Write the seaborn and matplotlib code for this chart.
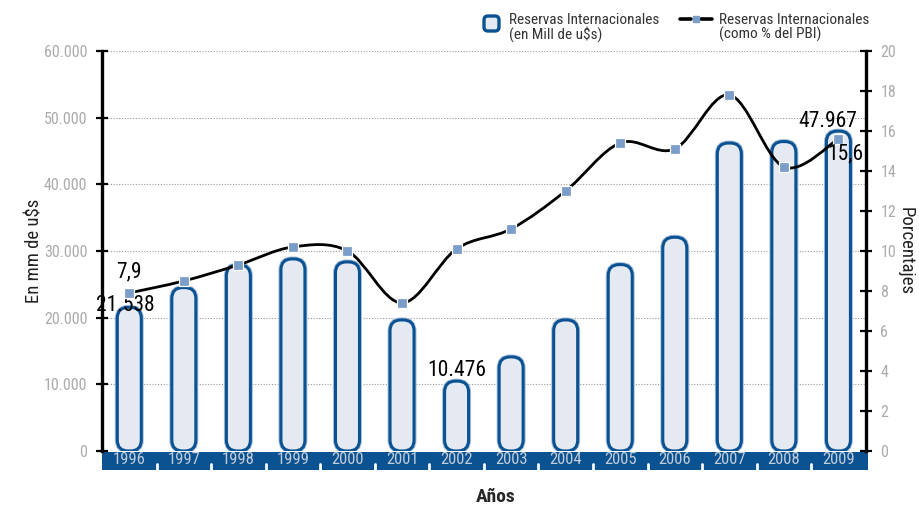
import matplotlib
matplotlib.use("Agg")
import matplotlib.pyplot as plt
import seaborn as sns
import numpy as np
import pandas as pd
from matplotlib import font_manager as fm
from matplotlib.patches import FancyBboxPatch, Rectangle, PathPatch
from matplotlib.path import Path
from matplotlib.lines import Line2D
from matplotlib.ticker import FuncFormatter, MultipleLocator

sns.set_style("white")

# pick a narrow sans if one is around
names = {f.name for f in fm.fontManager.ttflist}
family, stretch = 'Roboto', 'normal'
for pref in ['Liberation Sans Narrow', 'Roboto Condensed', 'Open Sans Condensed',
             'Noto Sans Condensed', 'DejaVu Sans Condensed']:
    if pref in names:
        family = pref
        break
else:
    for f in fm.fontManager.ttflist:
        if 'Sans' in f.name and 'Mono' not in f.name and 'CJK' not in f.name \
                and f.stretch in ('condensed', 'semi-condensed', 'extra-condensed'):
            family, stretch = f.name, f.stretch
            break
plt.rcParams['font.family'] = [family, 'DejaVu Sans']
plt.rcParams['font.stretch'] = stretch

# data
years = ['1996', '1997', '1998', '1999', '2000', '2001', '2002',
         '2003', '2004', '2005', '2006', '2007', '2008', '2009']
reservas = [21538, 24500, 27900, 28800, 28350, 19650, 10476,
            14100, 19650, 27950, 32050, 46180, 46400, 47967]
pct_pbi = [7.9, 8.5, 9.3, 10.2, 10.0, 7.4, 10.1,
           11.1, 13.0, 15.4, 15.1, 17.8, 14.2, 15.6]

dark = '#0a5291'
light = '#e4e9f2'
marker_c = '#7b9dc9'
grey = '#ababab'

df = pd.DataFrame({'anio': years, 'reservas': reservas, 'pct': pct_pbi})

fig = plt.figure(figsize=(9.19, 5.09), dpi=100)
ax = fig.add_axes([0.111, 0.114, 0.831, 0.786])

sns.barplot(data=df, x='anio', y='reservas', color=light, width=0.44,
            saturation=1, ax=ax)
ax.set_xlim(-0.5, 13.5)
ax.set_ylim(0, 60000)

# swap the square bars for rounded ones
aspect = (60000 / 400.) / (14 / 764.)
for p in list(ax.patches):
    x0, y0 = p.get_x(), p.get_y()
    w, h = p.get_width(), p.get_height()
    p.remove()
    for ec, lw, z in [('#a9c0dc', 3.6, 2), (dark, 2.2, 3)]:
        fb = FancyBboxPatch((x0, y0), w, h,
                            boxstyle='round,pad=0,rounding_size=0.2',
                            mutation_aspect=aspect, fc=light, ec=ec, lw=lw, zorder=z)
        ax.add_patch(fb)

# grid and spines
ax.yaxis.set_major_locator(MultipleLocator(10000))
ax.yaxis.grid(True, color='#9a9a9a', linestyle=(0, (1, 1.5)), linewidth=0.8)
ax.set_axisbelow(True)
for s in ['top', 'bottom']:
    ax.spines[s].set_visible(False)
ax.spines['left'].set_linewidth(2.4)
ax.spines['left'].set_color('black')
ax.spines['right'].set_visible(False)
ax.yaxis.set_major_formatter(FuncFormatter(lambda v, _: f'{int(v):,}'.replace(',', '.')))
ax.tick_params(axis='y', direction='inout', length=9, width=1.6, color='black',
               labelcolor=grey, labelsize=11.5, pad=6)
ax.tick_params(axis='x', length=0, labelcolor='#c3ccd9', labelsize=12, pad=1)
ax.set_xlabel('Años', fontsize=14, fontweight='bold', va='center')
ax.xaxis.set_label_coords(0.516, -0.115)
ax.set_ylabel('En mm de u$s', fontsize=13.5, color='#222222', va='center')
ax.yaxis.set_label_coords(-0.088, 0.5)

# dark band under the categories
ax.add_patch(Rectangle((0, -0.0465), 1.003, 0.044, transform=ax.transAxes,
                       fc=dark, ec='none', clip_on=False, zorder=0.2))
sep_tr = ax.get_xaxis_transform()
for k in range(len(years) - 1):
    ax.plot([k + 0.5, k + 0.5], [-0.0465, -0.032], transform=sep_tr, color='white',
            lw=2, clip_on=False, zorder=0.3)

# secondary axis: % of PBI
ax2 = ax.twinx()
ax2.set_ylim(0, 20)
ax2.set_xlim(-0.5, 13.5)
xs = np.arange(len(years))
pts = np.column_stack([xs, pct_pbi])
ext = np.vstack([pts[0], pts, pts[-1]])
verts = [tuple(pts[0])]
codes = [Path.MOVETO]
for i in range(len(pts) - 1):
    p0, p1, p2, p3 = ext[i], ext[i + 1], ext[i + 2], ext[i + 3]
    verts += [tuple(p1 + (p2 - p0) / 6), tuple(p2 - (p3 - p1) / 6), tuple(p2)]
    codes += [Path.CURVE4] * 3
ax2.add_patch(PathPatch(Path(verts, codes), fc='none', ec='black', lw=2.0, zorder=4))
sns.scatterplot(x=xs, y=pct_pbi, marker='s', s=45, color=marker_c, edgecolor='white',
                linewidth=0.9, ax=ax2, zorder=5)
for s in ['top', 'bottom', 'left']:
    ax2.spines[s].set_visible(False)
ax2.spines['right'].set_linewidth(2.4)
ax2.spines['right'].set_color('black')
ax2.yaxis.set_major_locator(MultipleLocator(2))
ax2.tick_params(axis='y', direction='inout', length=9, width=1.6, color='black',
                labelcolor=grey, labelsize=11.5, pad=6)
ax2.set_ylabel('Porcentajes', fontsize=13.5, color='#222222', rotation=-90, va='center')
ax2.yaxis.set_label_coords(1.052, 0.5)
ax2.grid(False)

# value labels
lab = dict(fontsize=15.5, color='black', ha='center', va='center', zorder=6)
ax2.annotate('7,9', (0, pct_pbi[0]), xytext=(0, 15), textcoords='offset points', **lab)
ax.annotate('21.538', (0, reservas[0]), xytext=(-3, 1), textcoords='offset points', **lab)
ax.annotate('10.476', (6, reservas[6]), xytext=(0, 8), textcoords='offset points', **lab)
ax.annotate('47.967', (13, reservas[13]), xytext=(-8, 7), textcoords='offset points', **lab)
ax2.annotate('15,6', (13, pct_pbi[13]), xytext=(5, -11), textcoords='offset points', **lab)

# legend, placed by hand
W, H = 919., 509.
fig.add_artist(FancyBboxPatch((484 / W, 1 - 31 / H), 15 / W, 15 / H,
                              boxstyle='round,pad=0,rounding_size=%f' % (4 / W),
                              mutation_aspect=W / H, fc=light, ec=dark, lw=2.4,
                              transform=fig.transFigure))
fig.add_artist(Line2D([680 / W, 691 / W], [1 - 19 / H] * 2, color='black', lw=2.6,
                      transform=fig.transFigure))
fig.add_artist(Line2D([701 / W, 712 / W], [1 - 19 / H] * 2, color='black', lw=2.6,
                      transform=fig.transFigure))
fig.add_artist(Line2D([696 / W], [1 - 19 / H], marker='s', markersize=4.5, color=marker_c,
                      linestyle='none', transform=fig.transFigure))
leg_txt = dict(fontsize=11, color='#333333', va='top', ha='left', linespacing=0.95)
fig.text(509 / W, 1 - 13 / H, 'Reservas Internacionales\n(en Mill de u$s)', **leg_txt)
fig.text(719 / W, 1 - 13 / H, 'Reservas Internacionales\n(como % del PBI)', **leg_txt)

fig.savefig('out.png', dpi=100)
